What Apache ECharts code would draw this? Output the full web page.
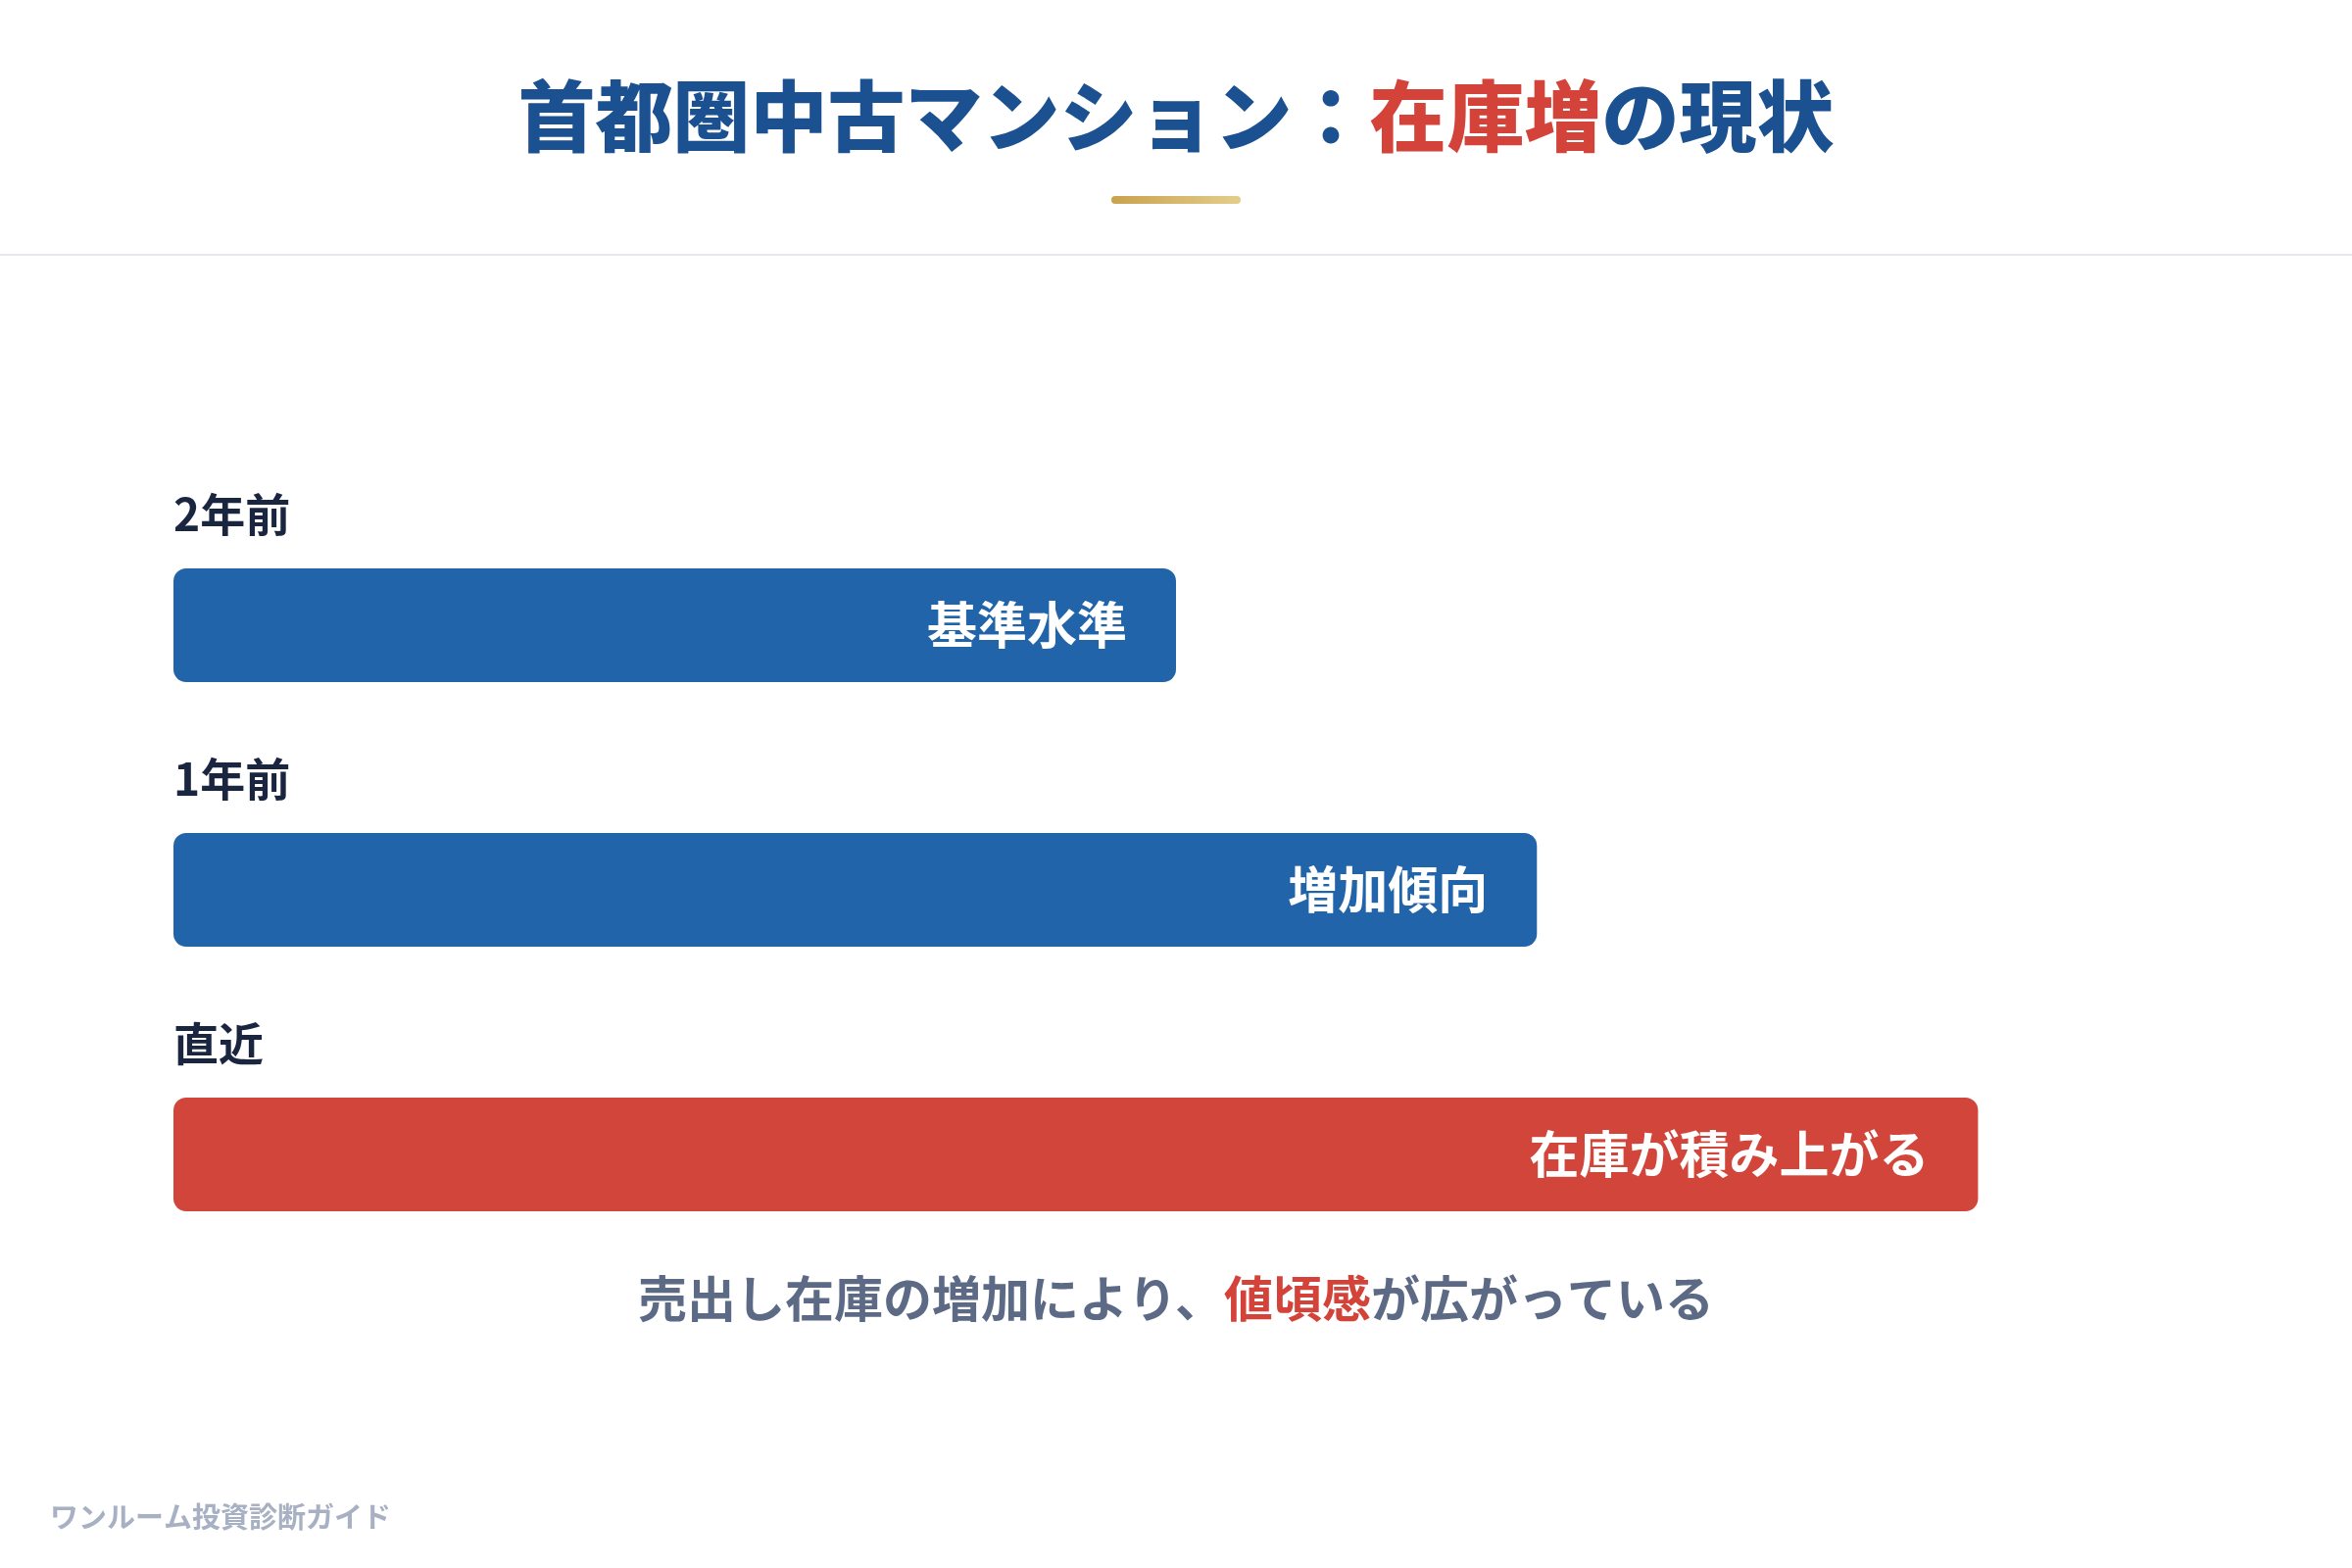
<!DOCTYPE html>
<html>
<head>
<meta charset="utf-8">
<script src="https://cdn.jsdelivr.net/npm/echarts@6/dist/echarts.min.js"></script>
<style>
html,body{margin:0;padding:0;background:#ffffff;}
#chart{width:2400px;height:1600px;}
</style>
</head>
<body>
<div id="chart"></div>
<script>
// ---- data ----
const categories = ['2年前', '1年前', '直近'];
const values = [50, 68, 90];
const barTexts = ['基準水準', '増加傾向', '在庫が積み上がる'];
const barColors = ['#2164aa', '#2164aa', '#d1453b'];

const FONT = '"Noto Sans CJK JP", "Noto Sans", sans-serif';

const chart = echarts.init(document.getElementById('chart'), null, {renderer: 'canvas'});

const option = {
  backgroundColor: '#ffffff',
  animation: false,
  title: [
    {
      text: '{b|首都圏中古マンション：}{r|在庫増}{b|の現状}',
      left: 'center',
      top: 68,
      textStyle: {
        rich: {
          b: {fontSize: 79, fontWeight: 900, color: '#1b5190', fontFamily: FONT, lineHeight: 92},
          r: {fontSize: 79, fontWeight: 900, color: '#d4433a', fontFamily: FONT, lineHeight: 92}
        }
      }
    },
    {
      text: '{g|売出し在庫の増加により、}{r|値頃感}{g|が広がっている}',
      left: 'center',
      top: 1292,
      textStyle: {
        rich: {
          g: {fontSize: 50, fontWeight: 'bold', color: '#5d6a85', fontFamily: FONT, lineHeight: 56},
          r: {fontSize: 50, fontWeight: 'bold', color: '#d4433a', fontFamily: FONT, lineHeight: 56}
        }
      }
    },
    {
      text: 'ワンルーム投資診断ガイド',
      left: 46,
      top: 1527,
      textStyle: {fontSize: 29, fontWeight: 'bold', color: '#a8b1c3', fontFamily: FONT, lineHeight: 32}
    }
  ],
  graphic: [
    {
      type: 'rect',
      left: 1134, top: 200,
      shape: {width: 132, height: 8, r: 4},
      style: {
        fill: new echarts.graphic.LinearGradient(0, 0, 1, 0, [
          {offset: 0, color: '#c9a24c'},
          {offset: 1, color: '#e4cd8c'}
        ])
      }
    },
    {
      type: 'rect',
      left: 0, top: 259,
      shape: {width: 2400, height: 2},
      style: {fill: '#e6e8ee'}
    }
  ],
  grid: {left: 177, right: 177, top: 503, bottom: 287, containLabel: false},
  xAxis: {
    type: 'value', min: 0, max: 100,
    show: false
  },
  yAxis: {
    type: 'category',
    data: categories,
    inverse: true,
    axisLine: {show: false},
    axisTick: {show: false},
    splitLine: {show: false},
    axisLabel: {
      inside: true,
      margin: 0,
      align: 'left',
      verticalAlign: 'bottom',
      padding: [0, 0, 90, 0],
      fontSize: 46,
      lineHeight: 46,
      fontWeight: 'bold',
      color: '#1a2540',
      fontFamily: FONT
    }
  },
  series: [{
    type: 'bar',
    barWidth: 116,
    data: values.map((v, i) => ({
      value: v,
      itemStyle: {color: barColors[i], borderRadius: 13},
      label: {formatter: barTexts[i]}
    })),
    label: {
      show: true,
      position: 'insideRight',
      distance: 50,
      fontSize: 51,
      fontWeight: 'bold',
      color: '#ffffff',
      fontFamily: FONT
    }
  }]
};

chart.setOption(option);
</script>
</body>
</html>
